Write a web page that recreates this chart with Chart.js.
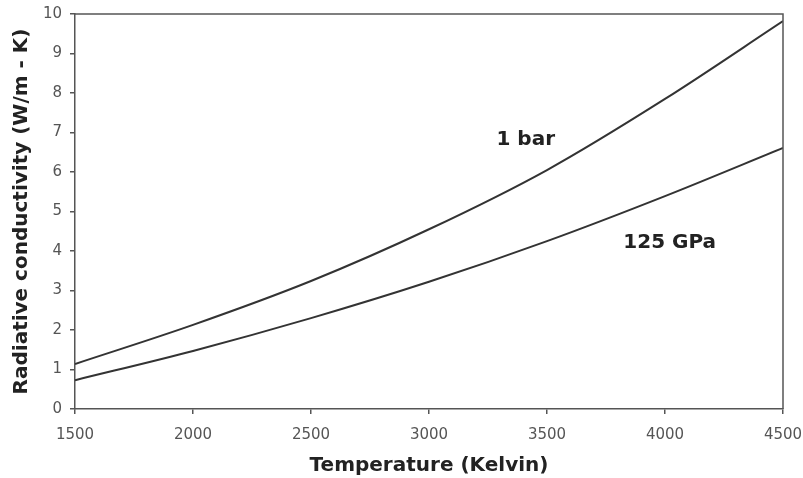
<!DOCTYPE html>
<html>
<head>
<meta charset="utf-8">
<script src="https://cdn.jsdelivr.net/npm/chart.js@4/dist/chart.umd.min.js"></script>
<style>
  html, body { margin: 0; padding: 0; background: #fff; }
  #wrap { width: 803px; height: 478px; }
</style>
</head>
<body>
<div id="wrap"><canvas id="grafico" width="803" height="478"></canvas></div>
<script>
// temperaturas (K) y conductividad radiativa (W/m - K)
const temperaturas = [1500, 2000, 2500, 3000, 3500, 4000, 4500]
const unBar = [1.14, 2.13, 3.24, 4.55, 6.05, 7.85, 9.82]
const gpa125 = [0.73, 1.47, 2.30, 3.22, 4.25, 5.39, 6.61]
const etiquetas = [
  { texto: '1 bar', x: 3410, y: 6.81 },
  { texto: '125 GPa', x: 4020, y: 4.2 }
]

const gris = '#555'
const tinta = '#333'

function puntos(valores) {
  return temperaturas.map((t, k) => ({ x: t, y: valores[k] }))
}

// marco arriba y a la derecha + textos de cada curva
const marco = {
  id: 'marco',
  afterDraw(chart) {
    const { ctx, chartArea: a, scales } = chart
    ctx.save()
    ctx.strokeStyle = gris
    ctx.lineWidth = 1.5
    ctx.beginPath()
    ctx.moveTo(a.left, a.top)
    ctx.lineTo(a.right, a.top)
    ctx.lineTo(a.right, a.bottom)
    ctx.stroke()
    ctx.fillStyle = '#222'
    ctx.font = 'bold 20px "DejaVu Sans", Verdana, sans-serif'
    ctx.textAlign = 'center'
    ctx.textBaseline = 'middle'
    etiquetas.forEach(e => {
      ctx.fillText(e.texto, scales.x.getPixelForValue(e.x), scales.y.getPixelForValue(e.y))
    })
    ctx.restore()
  }
}

const fuenteTicks = { family: '"DejaVu Sans", Verdana, sans-serif', size: 15 }
const fuenteTitulo = { family: '"DejaVu Sans", Verdana, sans-serif', size: 20, weight: 'bold' }

const config = {
  type: 'line',
  data: {
    datasets: [
      { label: '1 bar', data: puntos(unBar), borderColor: tinta, borderWidth: 2, pointRadius: 0, cubicInterpolationMode: 'monotone' },
      { label: '125 GPa', data: puntos(gpa125), borderColor: tinta, borderWidth: 2, pointRadius: 0, cubicInterpolationMode: 'monotone' }
    ]
  },
  options: {
    responsive: false,
    animation: false,
    layout: { padding: { top: 14, right: 20, left: 0, bottom: 0 } },
    plugins: { legend: { display: false }, tooltip: { enabled: false } },
    scales: {
      x: {
        type: 'linear', min: 1500, max: 4500,
        ticks: { stepSize: 500, color: gris, font: fuenteTicks, padding: 12, maxRotation: 0, callback: v => String(v) },
        grid: { drawOnChartArea: false, tickLength: 5, color: gris, lineWidth: 1.5 },
        border: { color: gris, width: 1.5 },
        title: { display: true, text: 'Temperature (Kelvin)', color: '#222', font: fuenteTitulo, padding: { top: 0, bottom: 0 } },
        afterFit(scale) {
          scale.height = 69
          scale.paddingLeft = 0
          scale.paddingRight = 0
        }
      },
      y: {
        min: 0, max: 10,
        ticks: { stepSize: 1, color: gris, font: fuenteTicks, padding: 8, callback: v => String(v) },
        grid: { drawOnChartArea: false, tickLength: 5, color: gris, lineWidth: 1.5 },
        border: { color: gris, width: 1.5 },
        title: { display: true, text: 'Radiative conductivity (W/m - K)', color: '#222', font: fuenteTitulo, padding: { top: 10, bottom: 0 } },
        afterFit(scale) {
          scale.width = 75
          scale.paddingTop = 0
          scale.paddingBottom = 0
        }
      }
    }
  },
  plugins: [marco]
}

const myChart = new Chart(document.getElementById('grafico'), config)
</script>
</body>
</html>
